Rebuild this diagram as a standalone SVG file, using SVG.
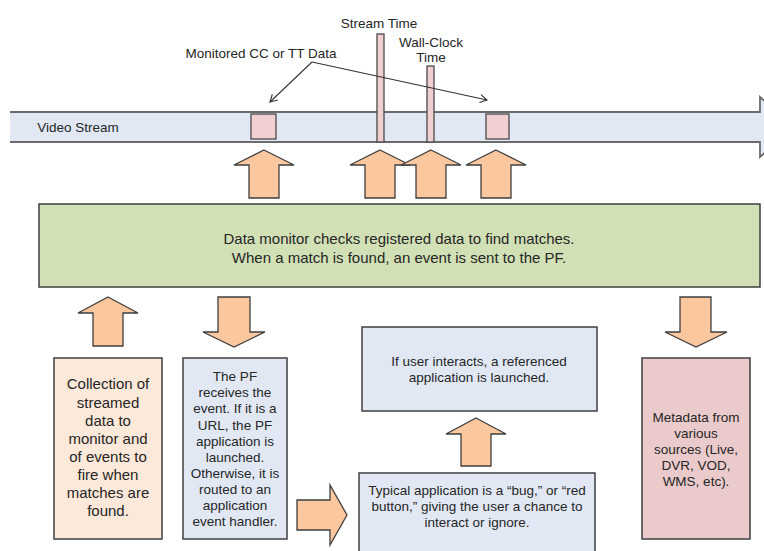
<svg xmlns="http://www.w3.org/2000/svg" width="764" height="551" viewBox="0 0 764 551">
<defs>
<marker id="open" markerWidth="10" markerHeight="10" refX="8" refY="5" orient="auto" markerUnits="userSpaceOnUse">
<path d="M1,1 L8,5 L1,9" fill="none" stroke="#333" stroke-width="1.1"/>
</marker>
</defs>
<style>
.t{font-family:"Liberation Sans",Arial,sans-serif;fill:#262626;text-anchor:middle}
.box{stroke:#3f3f3f;stroke-width:1.5}
.arr{fill:#fbc79e;stroke:#3f3f3f;stroke-width:1.3;stroke-linejoin:miter}
.mark{fill:#efcfcf;stroke:#4a4a4a;stroke-width:1.3}
.ln{stroke:#333;stroke-width:1.1;fill:none}
</style>
<rect width="764" height="551" fill="#ffffff"/>

<g id="video-stream">
<path d="M10,112 L760,112 L760,97 L794,127 L760,157 L760,142 L10,142 Z" fill="#e1e8f4"/>
<path d="M10,112 L760,112 L760,97 L794,127 L760,157 L760,142 L10,142" fill="none" stroke="#6b6b6b" stroke-width="1.8"/>
<text class="t" x="78" y="132" font-size="13.5">Video Stream</text>
</g>
<g id="cc-data-1"><rect class="mark" x="251" y="114" width="25" height="25"/></g>
<g id="cc-data-2"><rect class="mark" x="486" y="114" width="23" height="25"/></g>
<g id="stream-time">
<rect class="mark" x="377" y="34" width="7" height="108"/>
<text class="t" x="379" y="28" font-size="13.5">Stream Time</text>
</g>
<g id="wall-clock">
<rect class="mark" x="427" y="66" width="7" height="76"/>
<text class="t" x="431" y="47" font-size="13.5">Wall-Clock</text>
<text class="t" x="431" y="62" font-size="13.5">Time</text>
</g>
<g id="cc-label">
<text class="t" x="261" y="58" font-size="13.5">Monitored CC or TT Data</text>
</g>

<g id="data-monitor">
<rect class="box" x="39" y="204" width="721" height="83" fill="#d2e0b6"/>
<text class="t" x="399" y="243.5" font-size="15">Data monitor checks registered data to find matches.</text>
<text class="t" x="399" y="262.5" font-size="15">When a match is found, an event is sent to the PF.</text>
</g>

<g id="collection">
<rect class="box" x="54" y="358" width="108" height="181" fill="#fde9d9"/>
<g class="t" font-size="15">
<text x="108" y="389">Collection of</text>
<text x="108" y="408">streamed</text>
<text x="108" y="426">data to</text>
<text x="108" y="444">monitor and</text>
<text x="108" y="462">of events to</text>
<text x="108" y="480">fire when</text>
<text x="108" y="498">matches are</text>
<text x="108" y="516">found.</text>
</g>
</g>

<g id="pf">
<rect class="box" x="183" y="358" width="104" height="181" fill="#e1e8f3"/>
<g class="t" font-size="13.5">
<text x="235" y="381">The PF</text>
<text x="235" y="397">receives the</text>
<text x="235" y="413">event. If it is a</text>
<text x="235" y="430">URL, the PF</text>
<text x="235" y="446">application is</text>
<text x="235" y="462">launched.</text>
<text x="235" y="478">Otherwise, it is</text>
<text x="235" y="494">routed to an</text>
<text x="235" y="510">application</text>
<text x="235" y="526">event handler.</text>
</g>
</g>

<g id="user-interacts">
<rect class="box" x="362" y="327" width="235" height="84" fill="#e1e8f3"/>
<text class="t" x="479" y="366" font-size="13.5">If user interacts, a referenced</text>
<text class="t" x="479" y="382" font-size="13.5">application is launched.</text>
</g>

<g id="typical-app">
<rect class="box" x="359" y="473" width="236" height="90" fill="#e1e8f3"/>
<text class="t" x="477" y="495" font-size="13.5">Typical application is a “bug,” or “red</text>
<text class="t" x="477" y="511" font-size="13.5">button,” giving the user a chance to</text>
<text class="t" x="477" y="527" font-size="13.5">interact or ignore.</text>
</g>

<g id="metadata">
<rect class="box" x="642" y="358" width="108" height="181" fill="#eacaca"/>
<g class="t" font-size="13.5">
<text x="696" y="422">Metadata from</text>
<text x="696" y="438">various</text>
<text x="696" y="454">sources (Live,</text>
<text x="696" y="470">DVR, VOD,</text>
<text x="696" y="486">WMS, etc).</text>
</g>
</g>

<g id="connectors">
<path class="ln" d="M312,62 L270,102" marker-end="url(#open)"/>
<path class="ln" d="M312,62 L487,100" marker-end="url(#open)"/>
<path class="arr" d="M264,150 L294,165 L279,165 L279,198 L249,198 L249,165 L234,165 Z"/>
<path class="arr" d="M380,150 L410,165 L395,165 L395,198 L365,198 L365,165 L350,165 Z"/>
<path class="arr" d="M431,150 L461,165 L446,165 L446,198 L416,198 L416,165 L401,165 Z"/>
<path class="arr" d="M496,150 L526,165 L511,165 L511,198 L481,198 L481,165 L466,165 Z"/>
<path class="arr" d="M108,297 L138,313 L123,313 L123,346 L93,346 L93,313 L78,313 Z"/>
<path class="arr" d="M218,297 L250,297 L250,332 L265,332 L234,347 L203,332 L218,332 Z"/>
<path class="arr" d="M680,297 L711,297 L711,332 L727,332 L696,347 L665,332 L680,332 Z"/>
<path class="arr" d="M476,418 L506,434 L491,434 L491,466 L461,466 L461,434 L446,434 Z"/>
<path class="arr" d="M297,500 L330,500 L330,485 L347,515 L330,545 L330,530 L297,530 Z"/>
</g>
</svg>
